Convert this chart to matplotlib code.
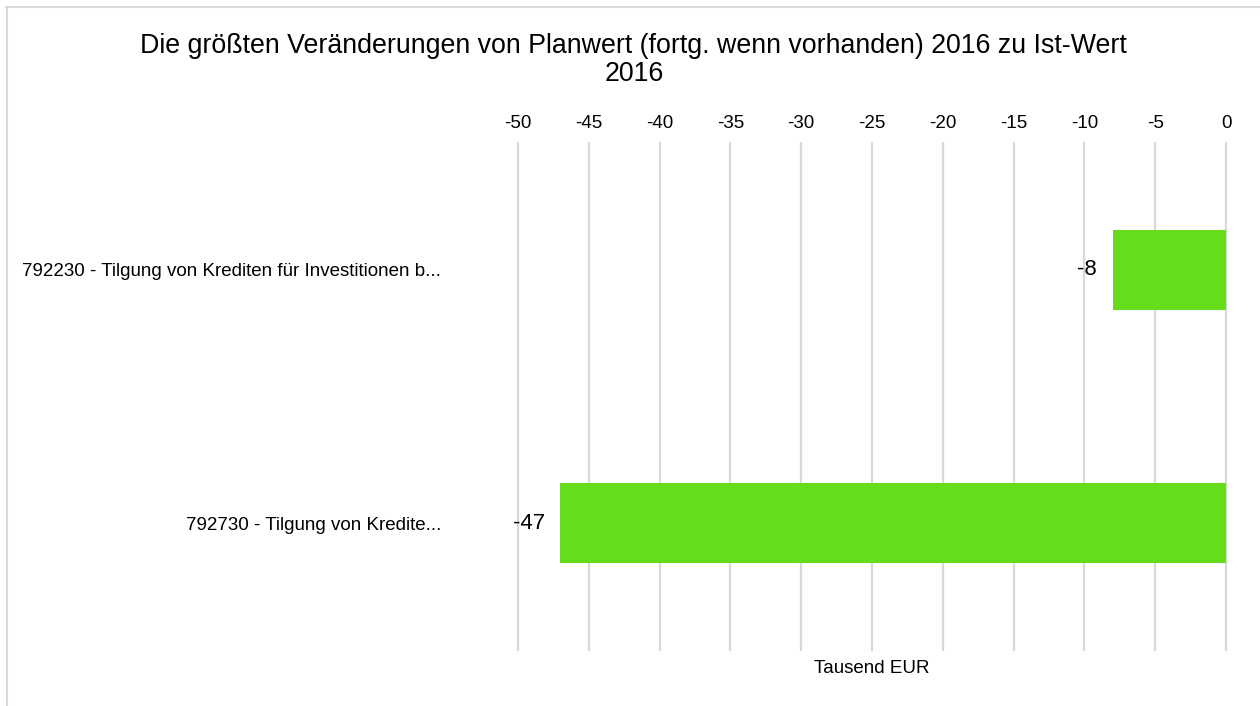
import matplotlib.pyplot as plt
from matplotlib.lines import Line2D

plt.rcParams['font.family'] = ['Liberation Sans', 'DejaVu Sans']

# Daten
kategorien = ["792230 - Tilgung von Krediten für Investitionen b...",
              "792730 - Tilgung von Kredite..."]
werte = [-8, -47]
ticks = [-50, -45, -40, -35, -30, -25, -20, -15, -10, -5, 0]

fig = plt.figure(figsize=(12.6, 7.06), dpi=100)
ax = fig.add_axes([518 / 1260, 1 - 650 / 706, 708 / 1260, 507 / 706])

# Rahmen um das Diagramm (nur oben und links sichtbar)
fig.add_artist(Line2D([6 / 1260, 1.0], [1 - 6.5 / 706, 1 - 6.5 / 706],
                      transform=fig.transFigure, color="#d9d9d9", lw=1.5))
fig.add_artist(Line2D([6.5 / 1260, 6.5 / 1260], [0.0, 1 - 6.5 / 706],
                      transform=fig.transFigure, color="#d9d9d9", lw=1.5))

pos = list(range(len(kategorien)))
bars = ax.barh(pos, werte, height=0.315, color="#66dd1a", zorder=3)
for b, v in zip(bars, werte):
    ax.text(v - 1.1, b.get_y() + b.get_height() / 2, f"{v}",
            ha="right", va="center", fontsize=16, color="#000000")

ax.set_xlim(-50, 0)
ax.set_ylim(1.5, -0.5)
ax.set_xticks(ticks)
ax.set_xticklabels([str(t) for t in ticks])
ax.xaxis.tick_top()
ax.tick_params(axis="x", length=0, pad=8, labelsize=13.5)
ax.set_yticks(pos)
ax.set_yticklabels(kategorien)
ax.tick_params(axis="y", length=0, pad=55.5, labelsize=13.5)
ax.grid(axis="x", color="#d9d9d9", lw=1.6, zorder=0)
for gl in ax.get_xgridlines():
    gl.set_clip_on(False)
for s in ax.spines.values():
    s.set_visible(False)

ax.set_xlabel("Tausend EUR", fontsize=13.5)
ax.xaxis.set_label_position("bottom")
ax.xaxis.labelpad = 7

fig.text(0.503, 1 - 60 / 706,
         "Die größten Veränderungen von Planwert (fortg. wenn vorhanden) 2016 zu Ist-Wert\n2016",
         ha="center", va="center", fontsize=19.3, linespacing=1.1)

fig.savefig("out.png", dpi=100)
